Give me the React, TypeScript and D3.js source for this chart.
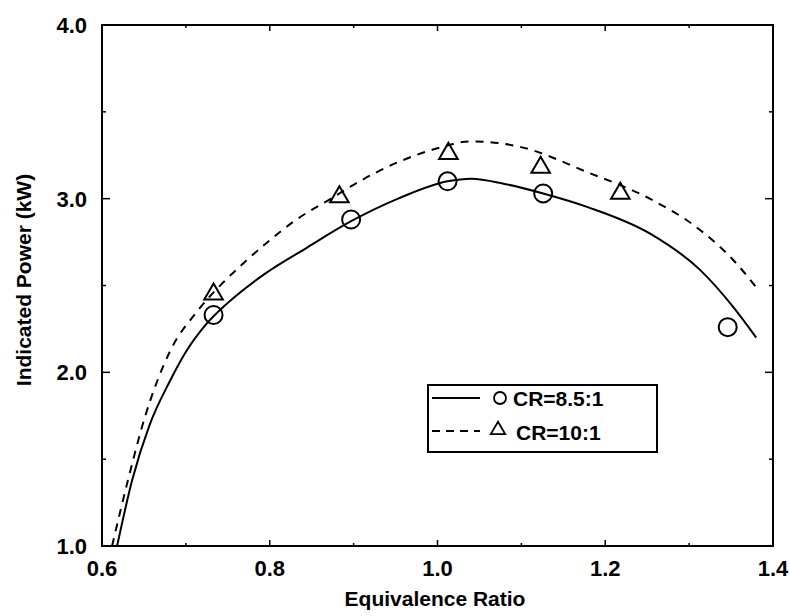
import React from "react";
import * as d3 from "d3";

const solidCurve: [number, number][] = [
  [0.618, 1.0], [0.636, 1.38], [0.657, 1.7], [0.681, 1.95], [0.699, 2.11],
  [0.723, 2.27], [0.75, 2.4], [0.789, 2.55], [0.845, 2.72], [0.897, 2.87],
  [0.953, 3.0], [1.012, 3.1], [1.04, 3.115], [1.08, 3.085], [1.126, 3.03],
  [1.18, 2.95], [1.253, 2.8], [1.313, 2.59], [1.352, 2.38], [1.38, 2.2],
];
const dashedCurve: [number, number][] = [
  [0.612, 1.0], [0.631, 1.38], [0.651, 1.74], [0.681, 2.12], [0.715, 2.36],
  [0.745, 2.52], [0.769, 2.63], [0.8, 2.76], [0.829, 2.87], [0.873, 3.0],
  [0.9, 3.08], [0.953, 3.21], [1.0, 3.29], [1.04, 3.33], [1.097, 3.3],
  [1.18, 3.15], [1.253, 3.0], [1.313, 2.82], [1.352, 2.65], [1.38, 2.49],
];
const circleData: [number, number][] = [
  [0.733, 2.33], [0.897, 2.88], [1.012, 3.1], [1.126, 3.03], [1.346, 2.26],
];
const triangleData: [number, number][] = [
  [0.733, 2.45], [0.883, 3.01], [1.013, 3.26], [1.123, 3.18], [1.218, 3.03],
];
const xTicks = [0.6, 0.8, 1.0, 1.2, 1.4];
const xMinor = [0.7, 0.9, 1.1, 1.3];
const yTicks = [1.0, 2.0, 3.0, 4.0];
const yMinor = [1.5, 2.5, 3.5];
const legendLabels = ["CR=8.5:1", "CR=10:1"];

const FONT = "'Liberation Sans', Arial, Helvetica, sans-serif";

export default function App() {
  const L = 102, R = 773, T = 25, B = 546;
  const x = d3.scaleLinear().domain([0.6, 1.4]).range([L, R]);
  const y = d3.scaleLinear().domain([1.0, 4.0]).range([B, T]);
  const line = d3.line<[number, number]>().x(d => x(d[0])).y(d => y(d[1])).curve(d3.curveMonotoneX);
  const tri = d3.symbol().type(d3.symbolTriangle).size(150);

  return (
    <svg width={790} height={616} style={{ position: "absolute", left: 0, top: 0, background: "#fff" }}>
      <rect x={0} y={0} width={790} height={616} fill="#fff" />
      <rect x={L} y={T} width={R - L} height={B - T} fill="none" stroke="#000" strokeWidth={2} />
      {xTicks.map(t => (
        <g key={"xt" + t}>
          <line x1={x(t)} x2={x(t)} y1={B} y2={B - 6} stroke="#000" strokeWidth={1.5} />
          <line x1={x(t)} x2={x(t)} y1={T} y2={T + 6} stroke="#000" strokeWidth={1.5} />
          <text x={x(t)} y={576} textAnchor="middle" fontFamily={FONT} fontWeight="bold" fontSize={22}>{t.toFixed(1)}</text>
        </g>
      ))}
      {xMinor.map(t => (
        <g key={"xm" + t}>
          <line x1={x(t)} x2={x(t)} y1={B} y2={B - 3} stroke="#000" strokeWidth={1.5} />
          <line x1={x(t)} x2={x(t)} y1={T} y2={T + 3} stroke="#000" strokeWidth={1.5} />
        </g>
      ))}
      {yTicks.map(t => (
        <g key={"yt" + t}>
          <line x1={L} x2={L + 8} y1={y(t)} y2={y(t)} stroke="#000" strokeWidth={1.5} />
          <line x1={R} x2={R - 8} y1={y(t)} y2={y(t)} stroke="#000" strokeWidth={1.5} />
          <text x={87} y={y(t)} dy="0.36em" textAnchor="end" fontFamily={FONT} fontWeight="bold" fontSize={22}>{t.toFixed(1)}</text>
        </g>
      ))}
      {yMinor.map(t => (
        <g key={"ym" + t}>
          <line x1={L} x2={L + 4} y1={y(t)} y2={y(t)} stroke="#000" strokeWidth={1.5} />
          <line x1={R} x2={R - 4} y1={y(t)} y2={y(t)} stroke="#000" strokeWidth={1.5} />
        </g>
      ))}
      <path d={line(solidCurve) || ""} fill="none" stroke="#000" strokeWidth={2} />
      <path d={line(dashedCurve) || ""} fill="none" stroke="#000" strokeWidth={2} strokeDasharray="8,7" />
      {circleData.map((d, i) => (
        <circle key={"c" + i} cx={x(d[0])} cy={y(d[1])} r={9} fill="none" stroke="#000" strokeWidth={2} />
      ))}
      {triangleData.map((d, i) => (
        <path key={"t" + i} d={tri() || ""} transform={`translate(${x(d[0])},${y(d[1])})`} fill="none" stroke="#000" strokeWidth={2} />
      ))}
      <rect x={428} y={385} width={229} height={67} fill="#fff" stroke="#000" strokeWidth={2} />
      <line x1={432} x2={480} y1={398} y2={398} stroke="#000" strokeWidth={2} />
      <circle cx={500} cy={398} r={6} fill="none" stroke="#000" strokeWidth={1.8} />
      <text x={513} y={398} dy="0.36em" fontFamily={FONT} fontWeight="bold" fontSize={21}>{legendLabels[0]}</text>
      <line x1={432} x2={480} y1={431} y2={431} stroke="#000" strokeWidth={2} strokeDasharray="8,6" />
      <path d={d3.symbol().type(d3.symbolTriangle).size(90)() || ""} transform="translate(498,430)" fill="none" stroke="#000" strokeWidth={1.8} />
      <text x={516} y={432} dy="0.36em" fontFamily={FONT} fontWeight="bold" fontSize={21}>{legendLabels[1]}</text>
      <text x={435} y={606} textAnchor="middle" fontFamily={FONT} fontWeight="bold" fontSize={21}>Equivalence Ratio</text>
      <text transform="translate(31,280) rotate(-90)" textAnchor="middle" fontFamily={FONT} fontWeight="bold" fontSize={21}>Indicated Power (kW)</text>
    </svg>
  );
}
